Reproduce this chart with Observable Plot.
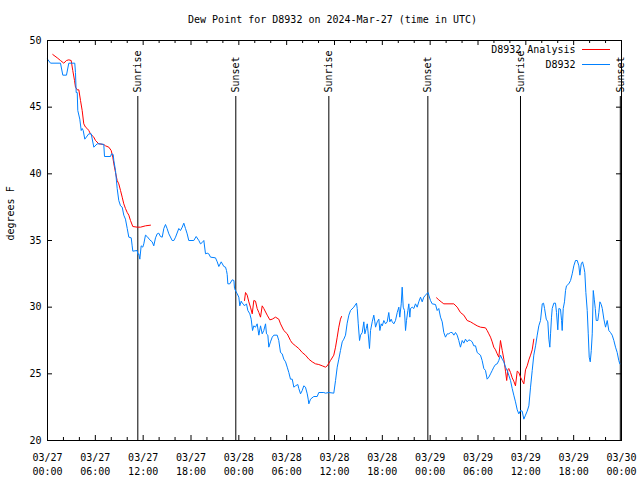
<!DOCTYPE html>
<html>
<head>
<meta charset="utf-8">
<script src="https://cdn.jsdelivr.net/npm/d3@7"></script>
<script src="https://cdn.jsdelivr.net/npm/@observablehq/plot@0.6"></script>
<style>
  html, body { margin: 0; padding: 0; background: white; }
</style>
</head>
<body>
<div id="chart"></div>
<script>
// Hours since 2024-03-27 00:00 UTC
const START = Date.UTC(2024, 2, 27, 0, 0);

// Observed dew point, D8932 (deg F)
const obsHours = [0,0.38,1.63,1.92,2.38,2.67,3.42,3.51,3.6,3.73,3.8,4.05,4.23,4.35,4.48,4.68,5.18,5.48,5.81,6.23,6.65,7.06,7.15,7.9,8.03,8.24,8.32,8.53,8.74,8.94,9.16,9.37,9.57,9.78,10.0,10.2,10.5,10.62,10.7,11.25,11.33,11.45,11.58,11.75,11.95,12.08,12.29,12.5,12.83,13.13,13.33,13.55,13.76,13.96,14.17,14.39,14.59,14.8,15.0,15.22,15.64,15.85,16.06,16.47,16.68,16.9,17.1,17.31,17.52,17.72,18.35,18.65,18.98,19.19,19.41,19.61,19.82,20.03,20.23,20.45,21.07,21.29,21.49,21.79,22.12,22.33,22.45,22.54,22.62,22.87,23.17,23.38,23.46,23.62,23.8,24.0,24.12,24.3,24.42,24.55,24.71,24.96,25.13,25.38,25.55,25.72,25.88,26.09,26.3,26.51,26.72,26.93,27.13,27.35,27.47,27.64,27.76,27.97,28.19,28.39,28.81,29.01,29.23,29.44,29.64,29.86,30.07,30.27,30.48,30.7,30.9,31.11,31.4,31.52,31.74,31.95,32.15,32.36,32.58,32.7,32.78,32.99,33.4,33.83,34.03,34.66,34.87,35.29,35.91,36.13,36.34,36.54,36.75,36.97,37.17,37.38,37.59,37.8,38.01,38.42,38.76,38.85,38.98,39.14,39.27,39.48,39.68,39.81,39.98,40.11,40.23,40.39,40.52,40.73,40.93,41.06,41.15,41.36,41.56,41.69,41.86,41.99,42.19,42.4,42.61,42.81,42.94,43.11,43.24,43.44,43.65,43.87,44.07,44.19,44.37,44.49,44.62,44.78,44.91,45.03,45.2,45.32,45.45,45.53,45.75,45.95,46.16,46.37,46.57,46.79,47.0,47.2,47.42,47.63,47.75,47.83,48.04,48.25,48.67,48.88,49.08,49.3,49.51,49.71,49.92,50.14,50.34,50.55,50.76,50.97,51.18,51.39,51.59,51.8,52.02,52.22,52.43,52.64,52.85,53.06,53.27,53.47,53.69,53.9,54.1,54.31,54.52,54.73,54.94,55.15,55.36,55.57,55.78,55.98,56.2,56.41,56.61,56.82,57.04,57.24,57.45,57.66,57.86,58.08,58.29,58.49,58.7,58.92,59.12,59.33,59.54,59.75,59.96,60.17,60.38,60.59,60.8,61.0,61.22,61.43,61.63,61.84,62.06,62.22,62.35,62.56,62.76,62.89,63.01,63.1,63.22,63.31,63.51,63.72,63.85,64.01,64.14,64.35,64.48,64.56,64.69,64.85,64.98,65.1,65.39,65.61,65.82,66.02,66.23,66.45,66.65,66.78,66.95,67.11,67.28,67.4,67.53,67.7,67.83,67.95,68.08,68.21,68.33,68.46,68.58,68.71,68.83,69.03,69.16,69.29,69.46,69.59,69.79,70.0,70.21,70.41,70.62,70.83,71.04,71.25,71.46,71.66,71.79];
const obsDewF = [48.6,48.3,48.3,47.4,47.4,48.3,48.3,47.6,46.1,46.1,44.75,44.1,43.25,43.4,43.25,42.6,43.0,43.0,42.0,42.25,42.25,42.2,41.3,41.3,41.5,41.45,41.0,40.25,38.9,38.0,37.6,37.5,36.9,36.6,35.9,35.25,35.2,34.6,34.2,34.25,33.95,34.0,33.6,34.6,34.5,34.75,35.4,35.3,35.05,34.9,34.6,35.2,35.5,35.55,35.3,35.25,35.9,36.2,35.9,35.5,35.0,35.0,35.25,35.9,35.75,36.0,36.3,35.9,35.5,35.0,35.0,35.3,35.0,34.75,34.85,35.0,34.0,34.05,34.0,33.75,33.7,33.4,33.05,33.4,33.05,33.0,32.75,32.45,31.75,31.75,32.05,32.0,31.4,31.2,31.0,30.75,30.1,30.45,30.3,30.25,30.1,30.25,29.75,29.5,29.1,28.25,28.6,28.5,28.75,27.9,28.6,28.0,28.25,28.75,28.0,27.9,27.0,27.4,27.75,27.9,27.9,27.5,26.6,26.5,26.1,25.9,25.5,25.1,24.6,24.6,24.0,24.1,24.2,23.9,23.5,23.75,24.1,24.0,23.5,23.1,22.75,23.1,23.3,23.3,23.6,23.6,23.55,23.6,23.55,24.5,25.5,26.1,26.75,27.4,27.6,27.9,28.8,29.4,29.75,30.0,30.3,29.9,28.75,27.5,27.9,28.1,28.9,28.0,28.4,28.75,28.0,26.9,28.25,28.9,29.4,28.9,28.5,28.9,29.1,28.25,28.75,28.6,29.0,28.75,28.9,29.6,28.9,29.1,28.9,28.75,29.0,29.6,30.0,29.25,30.25,31.5,30.0,29.75,28.25,29.0,29.75,30.25,29.25,29.9,30.0,29.9,30.25,30.0,30.4,30.75,30.4,30.75,30.9,31.05,31.1,30.9,30.5,30.25,30.2,29.75,29.9,29.25,28.9,28.1,27.75,28.0,28.0,28.1,28.1,27.9,28.1,27.9,27.5,27.0,27.5,27.3,27.6,27.4,27.55,27.5,27.4,27.1,27.1,26.6,26.5,26.4,26.0,25.4,25.25,24.6,24.75,25.0,25.25,25.5,25.7,25.75,26.0,26.4,26.1,25.9,25.5,25.25,24.9,24.5,23.9,23.4,22.9,22.3,22.0,22.25,22.2,21.6,21.9,22.2,22.6,24.0,25.25,26.4,27.1,27.9,28.6,29.0,30.25,30.3,29.9,29.1,28.9,27.6,27.0,28.0,29.25,29.9,30.3,30.3,29.6,28.3,29.9,29.85,29.0,28.25,29.9,30.4,31.25,31.6,31.75,32.0,32.5,33.1,33.5,33.5,33.1,32.4,33.25,33.4,33.0,32.6,31.1,29.75,28.0,26.25,25.9,26.75,28.0,31.25,30.6,29.9,29.0,29.0,29.6,30.4,30.2,29.9,29.1,28.5,29.0,28.25,28.1,27.9,27.5,27.0,26.6,26.0,25.75];

// Analysis dew point, D8932 Analysis (deg F); null = gap
const anaHours = [0.66,1.22,1.63,2.04,2.38,2.67,2.97,3.17,3.39,3.51,3.73,3.93,4.14,4.35,4.55,4.77,4.98,5.18,5.39,5.81,6.02,6.44,7.06,7.28,7.69,7.99,8.19,8.32,8.53,8.74,8.94,9.16,9.37,9.57,9.78,10.0,10.2,10.41,10.7,11.25,11.67,12.29,12.92,
  18.0,
  24.71,24.84,25.05,25.25,25.46,25.68,25.88,26.09,26.3,26.51,26.72,26.93,27.13,27.56,27.89,28.19,28.6,29.01,29.23,29.64,30.07,30.48,30.7,31.11,31.52,31.95,32.36,32.78,33.2,33.62,34.03,34.46,34.87,35.09,35.5,35.91,36.13,36.34,36.54,36.75,36.88,
  42.0,
  48.8,49.08,49.38,49.71,50.97,51.39,51.8,52.22,52.64,53.06,53.47,53.9,54.31,54.94,55.15,55.36,55.57,55.78,55.98,56.2,56.41,56.61,56.82,57.04,57.24,57.45,57.6,57.74,57.86,58.08,58.29,58.49,58.7,58.92,59.12,59.33,59.54,59.75,59.96,60.17,60.38,60.59,60.8,61.0];
const anaDewF = [48.95,48.7,48.5,48.3,48.5,48.55,48.5,47.75,47.0,46.5,46.3,46.3,45.5,44.75,43.75,43.5,43.4,43.25,43.0,42.75,42.5,42.25,42.2,42.1,42.0,41.75,41.25,40.75,40.1,39.5,39.25,38.75,38.25,37.75,37.4,37.1,36.9,36.5,36.05,36.0,36.0,36.1,36.15,
  null,
  30.5,31.1,30.9,30.4,30.0,29.5,30.5,30.45,29.9,29.6,29.25,30.1,29.9,29.4,29.05,29.1,29.25,29.1,28.75,28.25,28.0,27.5,27.3,27.1,26.9,26.6,26.4,26.1,25.9,25.75,25.7,25.6,25.5,25.6,26.0,26.4,27.0,27.75,28.5,29.1,29.3,
  null,
  30.7,30.55,30.4,30.25,30.25,30.0,29.6,29.4,29.0,28.9,28.75,28.6,28.5,28.45,28.25,28.0,27.75,27.4,27.0,26.8,26.5,26.25,27.5,26.75,26.1,25.2,24.5,25.3,25.4,25.1,24.7,24.45,24.1,25.2,25.1,24.75,24.5,24.25,25.3,25.6,26.05,26.4,26.8,27.6];

// Sun events (hours since start)
const sunLabels = ["Sunrise", "Sunset", "Sunrise", "Sunset", "Sunrise", "Sunset"];
const sunHours = [11.33, 23.62, 35.29, 47.71, 59.33, 71.85];

const yTicks = [20, 25, 30, 35, 40, 45, 50];
const legendLabels = ["D8932 Analysis", "D8932"];
const seriesColors = ["#ff0000", "#0080ff"];
const titleText = "Dew Point for D8932 on 2024-Mar-27 (time in UTC)";
const yLabel = "degrees F";

const toDate = h => new Date(START + h * 3600e3);
const obs = obsHours.map((h, i) => ({t: toDate(h), v: obsDewF[i]}));
const ana = anaHours.map((h, i) => ({t: toDate(h), v: anaDewF[i]}));
const sun = sunHours.map((h, i) => ({t: toDate(h), label: sunLabels[i]}));

const x0 = toDate(0), x1 = toDate(72);
const majorTicks = d3.utcHour.every(6).range(x0, new Date(+x1 + 1));
const minorTicks = d3.utcHour.every(2).range(x0, new Date(+x1 + 1)).filter(d => d.getUTCHours() % 6 !== 0);
const fmtDay = d3.utcFormat("%m/%d"), fmtTime = d3.utcFormat("%H:%M");

const W = 640, H = 480, ML = 47, MR = 19, MT = 40, MB = 40;
const FW = W - ML - MR, FH = H - MT - MB;

const chart = Plot.plot({
  width: W, height: H,
  marginLeft: ML, marginRight: MR, marginTop: MT, marginBottom: MB,
  style: {fontFamily: "'DejaVu Sans Mono', monospace", fontSize: "10px", background: "white", color: "black", overflow: "visible"},
  x: {type: "utc", domain: [x0, x1]},
  y: {domain: [20, 50]},
  marks: [
    // inward ticks
    Plot.ruleX(majorTicks, {x: d => d, insetTop: FH - 5, stroke: "black"}),
    Plot.ruleX(majorTicks, {x: d => d, insetBottom: FH - 5, stroke: "black"}),
    Plot.ruleX(minorTicks, {x: d => d, insetTop: FH - 3, stroke: "black"}),
    Plot.ruleX(minorTicks, {x: d => d, insetBottom: FH - 3, stroke: "black"}),
    Plot.ruleY(yTicks, {y: d => d, insetRight: FW - 5, stroke: "black"}),
    Plot.ruleY(yTicks, {y: d => d, insetLeft: FW - 5, stroke: "black"}),
    Plot.axisX({ticks: majorTicks, tickSize: 0, tickPadding: 11, tickFormat: d => fmtDay(d) + "\n" + fmtTime(d), lineHeight: 1.4, fontSize: 10, label: null}),
    Plot.axisY({ticks: yTicks, tickSize: 0, tickPadding: 6, fontSize: 10, label: null}),
    // sun events
    Plot.ruleX(sun, {x: "t", insetTop: 56, stroke: "black"}),
    Plot.text(sun, {x: "t", text: "label", frameAnchor: "top", dy: 52, rotate: -90, textAnchor: "start", lineAnchor: "middle", fontSize: 10, fill: "black"}),
    // series
    Plot.line(ana, {x: "t", y: "v", stroke: seriesColors[0], strokeWidth: 1}),
    Plot.line(obs, {x: "t", y: "v", stroke: seriesColors[1], strokeWidth: 1}),
    Plot.frame({stroke: "black"}),
    // legend text
    Plot.text([legendLabels[0]], {frameAnchor: "top-right", dx: -46, dy: 9, textAnchor: "end", lineAnchor: "middle", fontSize: 10, fill: "black"}),
    Plot.text([legendLabels[1]], {frameAnchor: "top-right", dx: -46, dy: 24, textAnchor: "end", lineAnchor: "middle", fontSize: 10, fill: "black"}),
    // title and y label
    Plot.text([titleText], {frameAnchor: "top", dx: -2, dy: -21, lineAnchor: "middle", fontSize: 10, fill: "black"}),
    Plot.text([yLabel], {frameAnchor: "left", dx: -37, rotate: -90, lineAnchor: "middle", fontSize: 10, fill: "black"})
  ]
});

// legend line samples
const svg = d3.select(chart);
[49, 64].forEach((yy, i) => {
  svg.append("line")
    .attr("x1", 582).attr("x2", 610).attr("y1", yy + 0.5).attr("y2", yy + 0.5)
    .attr("stroke", seriesColors[i]).attr("stroke-width", 1);
});

document.getElementById("chart").appendChild(chart);
</script>
</body>
</html>
